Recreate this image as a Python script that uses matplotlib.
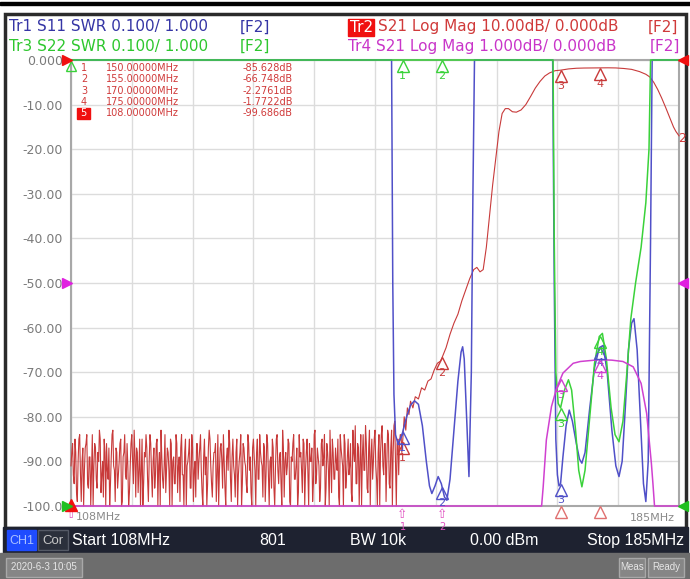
import numpy as np
import matplotlib.pyplot as plt
from matplotlib.patches import Rectangle
from matplotlib.transforms import offset_copy, blended_transform_factory

# %% Data

f_start, f_stop = 108.0, 185.0

# Tr2 S21 log mag (dB): noise floor 108 .. 149.9 MHz, two interleaved halves
tr2_noise_even = [
    -91, -86, -95, -88, -99, -85, -93, -90, -100, -87, -84, -96, -89, -92, -100, -86, -94, -88, -83, -97,
    -90, -85, -100, -92, -87, -95, -84, -91, -99, -88, -93, -86, -100, -89, -84, -94, -91, -97, -86, -90,
    -83, -98, -88, -92, -100, -85, -95, -89, -87, -99, -84, -93, -90, -96, -86, -100, -88, -83, -94, -91,
    -97, -87, -92, -85, -100, -89, -95, -86, -91, -99, -84, -93, -88, -100, -90, -85, -96, -87, -92, -98,
    -86, -90, -84, -97, -89, -93, -100, -87, -85, -95, -91, -88, -99, -84, -92, -86, -96, -90, -100, -87,
    -83, -94, -89, -91, -98, -85, -93, -88, -100, -86, -90, -95, -84, -92, -97, -87, -89, -100, -85, -94,
    -88, -91, -86, -99, -84, -93, -90, -96, -87, -100, -85, -92, -89, -95, -83, -98, -88, -91, -86, -100,
    -90, -84, -94, -87, -97, -89, -92, -85, -100, -88, -93, -86, -90, -99, -84, -95, -87, -91, -96, -85,
    -89, -100, -86, -92, -83, -97, -88, -94, -90, -85, -100, -87, -91, -84, -96, -89, -93, -86, -99, -88,
    -82, -95, -87, -90, -100, -84, -92, -86, -97, -83, -89, -94, -85, -91, -100, -84, -88, -82, -93, -86,
    -90, -84, -96, -83, -88, -81, -100, -85, -86, -84,
]
tr2_noise_odd = [
    -88, -93, -85, -97, -90, -84, -99, -87, -92, -86, -95, -89, -100, -84, -91, -87, -96, -90, -85, -93,
    -98, -88, -86, -94, -100, -89, -83, -92, -87, -96, -90, -85, -99, -88, -93, -86, -100, -91, -84, -95,
    -89, -87, -97, -85, -92, -100, -88, -84, -94, -90, -86, -98, -87, -93, -85, -91, -100, -89, -96, -84,
    -92, -88, -100, -86, -90, -95, -84, -97, -89, -87, -93, -100, -85, -91, -88, -96, -84, -99, -90, -86,
    -94, -87, -92, -100, -85, -89, -95, -83, -91, -98, -88, -86, -93, -100, -87, -90, -84, -96, -89, -92,
    -86, -99, -85, -93, -88, -100, -90, -84, -95, -87, -91, -97, -86, -89, -100, -85, -92, -88, -94, -84,
    -90, -98, -87, -93, -86, -100, -89, -85, -96, -91, -84, -95, -88, -100, -87, -90, -93, -85, -99, -89,
    -86, -94, -91, -100, -84, -88, -97, -86, -92, -85, -100, -90, -87, -95, -83, -93, -89, -99, -86, -91,
    -84, -96, -88, -100, -90, -85, -94, -87, -92, -98, -84, -89, -100, -86, -93, -85, -91, -97, -83, -90,
    -95, -86, -100, -84, -89, -92, -82, -96, -87, -100, -85, -90, -83, -94, -88, -100, -84, -91, -86, -99,
    -83, -95, -87, -100, -82, -90, -86, -93, -84, -88,
]
tr2_noise_db = np.column_stack([tr2_noise_even, tr2_noise_odd]).ravel()
tr2_noise_freq = f_start + 0.1 * np.arange(len(tr2_noise_db))

# Tr2 skirt + passband
tr2_pass_freq = [150.0, 150.2, 150.4, 150.6, 150.8, 151.0, 151.3, 151.6, 152.0, 152.4, 152.8, 153.2,
                 153.6, 154.0, 154.4, 154.8, 155.0, 155.5, 156.0, 156.5, 157.0, 157.5, 158.0, 158.5,
                 159.0, 159.4, 159.8, 160.2, 160.6, 161.0, 161.4, 161.8, 162.2, 162.6, 163.0, 163.4,
                 163.9, 164.4, 165.0, 165.6, 166.2, 166.8, 167.4, 168.0, 168.6, 169.3, 170.0, 171.0,
                 172.0, 173.0, 174.0, 175.0, 176.0, 177.0, 178.0, 179.0, 180.0, 180.8, 181.3, 181.8,
                 182.3, 182.8, 183.3, 183.8, 184.3, 184.6, 185.0]
tr2_pass_db = [-85.6, -80.0, -83.0, -78.0, -79.5, -76.5, -78.0, -75.5, -76.0, -73.5, -74.0, -72.0,
               -71.5, -69.5, -68.0, -67.5, -66.7, -64.5, -61.5, -59.0, -57.0, -54.0, -51.5, -49.0,
               -47.0, -46.5, -47.5, -47.0, -42.0, -35.0, -28.0, -22.0, -16.0, -12.0, -10.9, -10.9,
               -11.6, -11.7, -11.2, -10.0, -8.2, -6.3, -4.8, -3.6, -2.9, -2.4, -2.28, -2.0,
               -1.85, -1.8, -1.78, -1.77, -1.75, -1.78, -1.9, -2.1, -2.6, -3.2, -3.8, -5.0,
               -6.6, -8.5, -10.6, -12.8, -15.0, -16.0, -17.0]

# Tr1 S11 SWR
tr1_freq = [108.0, 148.4, 148.6, 148.75, 148.9, 149.1, 149.4, 149.7, 150.0, 150.5, 151.0, 151.5,
            152.0, 152.5, 153.0, 153.4, 153.7, 154.1, 154.5, 154.9, 155.3, 155.6, 156.0, 156.5,
            157.0, 157.4, 157.6, 157.8, 158.1, 158.4, 158.7, 158.9, 159.1, 159.3, 168.8, 169.0,
            169.2, 169.4, 169.6, 169.8, 170.0, 170.3, 170.7, 171.1, 171.5, 172.0, 172.4, 172.7,
            173.1, 173.7, 174.3, 174.9, 175.4, 175.9, 176.5, 177.0, 177.4, 177.8, 178.2, 178.6,
            179.0, 179.3, 179.7, 180.1, 180.5, 180.8, 181.1, 181.4, 181.6, 181.8, 185.0]
tr1_swr = [5.0, 5.0, 2.0, 1.5, 1.25, 1.16, 1.14, 1.15, 1.165, 1.2, 1.226, 1.236,
           1.228, 1.18, 1.1, 1.045, 1.028, 1.045, 1.066, 1.05, 1.02, 1.013, 1.06, 1.17,
           1.28, 1.345, 1.357, 1.33, 1.2, 1.066, 1.3, 1.7, 2.2, 5.0, 5.0, 2.2,
           1.5, 1.15, 1.07, 1.045, 1.05, 1.11, 1.18, 1.215, 1.19, 1.14, 1.105, 1.096,
           1.12, 1.22, 1.31, 1.355, 1.36, 1.3, 1.17, 1.09, 1.066, 1.1, 1.22, 1.35,
           1.41, 1.42, 1.35, 1.2, 1.05, 1.01, 1.1, 1.6, 2.2, 5.0, 5.0]

# Tr3 S22 SWR
tr3_freq = [108.0, 168.9, 169.05, 169.2, 169.4, 169.7, 170.0, 170.5, 171.0, 171.4, 171.9, 172.3,
            172.7, 173.1, 173.7, 174.3, 174.9, 175.3, 175.8, 176.4, 176.9, 177.4, 177.9, 178.4,
            178.9, 179.5, 180.2, 180.8, 181.2, 181.4, 181.5, 185.0]
tr3_swr = [5.0, 5.0, 2.2, 1.6, 1.3, 1.23, 1.22, 1.26, 1.283, 1.26, 1.17, 1.08,
           1.043, 1.08, 1.2, 1.32, 1.38, 1.387, 1.33, 1.22, 1.16, 1.144, 1.19, 1.3,
           1.42, 1.5, 1.58, 1.68, 1.8, 2.5, 5.0, 5.0]

# Tr4 S21 log mag, 1 dB/div
tr4_freq = [108.0, 167.6, 167.8, 168.2, 168.85, 169.5, 170.3, 171.6, 172.5, 173.7, 175.0, 176.5,
            177.9, 179.2, 180.2, 180.9, 181.5, 181.7, 181.9, 185.0]
tr4_db = [-6.0, -6.0, -4.57, -3.52, -2.77, -2.36, -2.02, -1.8, -1.76, -1.74, -1.72, -1.73,
          -1.76, -1.88, -2.25, -2.92, -4.04, -4.5, -6.0, -6.0]

marker_freq = [150.0, 155.0, 170.0, 175.0]
marker_table = [("1", "150.00000MHz", "-85.628dB"),
                ("2", "155.00000MHz", "-66.748dB"),
                ("3", "170.00000MHz", "-2.2761dB"),
                ("4", "175.00000MHz", "-1.7722dB"),
                ("5", "108.00000MHz", "-99.686dB")]

y_ticks = [-100, -90, -80, -70, -60, -50, -40, -30, -20, -10, 0]
y_labels = ["-100.0", "-90.00", "-80.00", "-70.00", "-60.00", "-50.00",
            "-40.00", "-30.00", "-20.00", "-10.00", "0.000"]

# %% Colours

C_BLUE, C_BLUE_T = "#5050c8", "#3535a5"
C_GREEN, C_GREEN_T = "#3ad23a", "#2ec72e"
C_RED, C_RED_T = "#c83a3a", "#d03a3a"
C_MAG, C_MAG_T = "#d040d0", "#c935c9"

# %% Screen mapping (everything drawn on the 10 dB/div graticule)

def swr_to_screen(swr, ref_pos=-100.0):
    return ref_pos + (np.asarray(swr) - 1.0) / 0.1 * 10.0

def tr4_to_screen(db, ref_pos=-50.0):
    return ref_pos + np.asarray(db) / 1.0 * 10.0

def clip(v):
    return np.clip(v, -100.0, 0.0)

tr2_f = np.concatenate([tr2_noise_freq, tr2_pass_freq])
tr2_y = clip(np.concatenate([tr2_noise_db, tr2_pass_db]))
tr1_y = clip(swr_to_screen(tr1_swr))
tr3_y = clip(swr_to_screen(tr3_swr))
tr4_y = clip(tr4_to_screen(tr4_db))

# %% Figure

fig = plt.figure(figsize=(6.9, 5.79), dpi=100)
bg = fig.add_axes([0, 0, 1, 1])
bg.set_xlim(0, 690)
bg.set_ylim(579, 0)
bg.axis("off")

# frame / bars
bg.add_patch(Rectangle((0, 1.5), 690, 3, color="black"))
bg.add_patch(Rectangle((4.5, 13.5), 681.5, 514, facecolor="white", edgecolor="#2b2b2b", lw=2.5))
bg.add_patch(Rectangle((3, 527), 685, 26, color="#1e2230"))
bg.add_patch(Rectangle((0, 553), 690, 26, color="#6d6d6d"))
bg.add_patch(Rectangle((7, 530), 29, 20, color="#1f4cff"))
bg.add_patch(Rectangle((38, 530), 30, 20, facecolor="#2b303c", edgecolor="#555a66", lw=1))
bg.add_patch(Rectangle((6, 558), 76, 19, facecolor="#868686", edgecolor="#a8a8a8", lw=1))
bg.add_patch(Rectangle((619, 558), 26, 19, facecolor="#868686", edgecolor="#a8a8a8", lw=1))
bg.add_patch(Rectangle((648, 558), 36, 19, facecolor="#868686", edgecolor="#a8a8a8", lw=1))

bar_font = dict(family=["Liberation Sans", "DejaVu Sans"], va="center")
bg.text(21.5, 540.5, "CH1", color="#a9c0ff", fontsize=9, ha="center", **bar_font)
bg.text(53, 540.5, "Cor", color="#c8c8c8", fontsize=9.5, ha="center", **bar_font)
bg.text(72, 540.5, "Start 108MHz", color="white", fontsize=11.5, ha="left", **bar_font)
bg.text(273, 540.5, "801", color="white", fontsize=11.5, ha="center", **bar_font)
bg.text(350, 540.5, "BW 10k", color="white", fontsize=11.5, ha="left", **bar_font)
bg.text(470, 540.5, "0.00 dBm", color="white", fontsize=11.5, ha="left", **bar_font)
bg.text(684, 540.5, "Stop 185MHz", color="white", fontsize=11.5, ha="right", **bar_font)
bg.text(44, 567.5, "2020-6-3 10:05", color="#e6e6e6", fontsize=7, ha="center", **bar_font)
bg.text(632, 567.5, "Meas", color="#e6e6e6", fontsize=7, ha="center", **bar_font)
bg.text(666, 567.5, "Ready", color="#e6e6e6", fontsize=7, ha="center", **bar_font)

# trace header
hdr = dict(fontsize=11, va="center", ha="left")
bg.text(9, 27, "Tr1 S11 SWR 0.100/ 1.000", color=C_BLUE_T, **hdr)
bg.text(240, 27, "[F2]", color=C_BLUE_T, **hdr)
bg.text(9, 46, "Tr3 S22 SWR 0.100/ 1.000", color=C_GREEN_T, **hdr)
bg.text(240, 46, "[F2]", color=C_GREEN_T, **hdr)
bg.add_patch(Rectangle((348, 19), 26, 17, color="#f01010"))
bg.text(349.5, 27, "Tr2", color="white", **hdr)
bg.text(378, 27, "S21 Log Mag 10.00dB/ 0.000dB", color=C_RED_T, **hdr)
bg.text(648, 27, "[F2]", color=C_RED_T, **hdr)
bg.text(348, 46, "Tr4 S21 Log Mag 1.000dB/ 0.000dB", color=C_MAG_T, **hdr)
bg.text(650, 46, "[F2]", color=C_MAG_T, **hdr)

# %% Graticule

ax = fig.add_axes([71 / 690, 1 - 506 / 579, 608 / 690, 446 / 579])
ax.set_xlim(f_start, f_stop)
ax.set_ylim(-100, 0)
ax.set_facecolor("white")
ax.set_xticks(np.linspace(f_start, f_stop, 11))
ax.set_yticks(y_ticks)
ax.set_yticklabels(y_labels)
ax.set_xticklabels([])
ax.tick_params(length=0, labelsize=9, labelcolor="#7a7a7a", pad=6)
ax.grid(True, color="#dcdcdc", lw=1)
for s in ax.spines.values():
    s.set_color("#a8a8a8")
    s.set_linewidth(1.5)

ax.plot(tr2_f, tr2_y, color=C_RED, lw=0.8, clip_on=False, zorder=3)
ax.plot(tr1_freq, tr1_y, color=C_BLUE, lw=1.1, clip_on=False, zorder=4)
ax.plot(tr3_freq, tr3_y, color=C_GREEN, lw=1.1, clip_on=False, zorder=5)
ax.plot(tr4_freq, tr4_y, color=C_MAG, lw=1.1, clip_on=False, zorder=6)

# trace end label
ax.annotate("2", (tr2_f[-1], tr2_y[-1]), xytext=(3, -3), textcoords="offset pixels",
            color=C_RED_T, fontsize=9, ha="center", va="center", annotation_clip=False)

# %% Markers

tri_tr = offset_copy(ax.transData, fig=fig, y=-6, units="dots")
freqs_of = {C_RED: tr2_f, C_BLUE: tr1_freq, C_GREEN: tr3_freq, C_MAG: tr4_freq}

def draw_markers(freqs, y, col):
    for i, mf in enumerate(freqs):
        v = float(np.interp(mf, freqs_of[col], y))
        ax.plot([mf], [v], marker="^", ms=8, mfc="none", mec=col, mew=1,
                transform=tri_tr, clip_on=False, zorder=8)
        ax.annotate(str(i + 1), (mf, v), xytext=(0, -16), textcoords="offset pixels",
                    color=col, fontsize=8, ha="center", va="center", annotation_clip=False,
                    zorder=8)

draw_markers(marker_freq, tr2_y, C_RED)
draw_markers(marker_freq, tr1_y, C_BLUE)
draw_markers(marker_freq, tr3_y, C_GREEN)

# Tr4: markers 1/2 below the screen, 3/4 on the trace
for i, mf in enumerate(marker_freq):
    v = float(np.interp(mf, tr4_freq, tr4_y))
    if v <= -100:
        ax.annotate("\u21e7", (mf, -100), xytext=(0, -9), textcoords="offset pixels",
                    color="#e050c0", fontsize=9, ha="center", va="center", annotation_clip=False)
        ax.annotate(str(i + 1), (mf, -100), xytext=(0, -21), textcoords="offset pixels",
                    color="#e050c0", fontsize=7, ha="center", va="center", annotation_clip=False)
    else:
        ax.plot([mf], [v], marker="^", ms=8, mfc="none", mec=C_MAG, mew=1,
                transform=tri_tr, clip_on=False, zorder=8)
        ax.annotate(str(i + 1), (mf, v), xytext=(0, -16), textcoords="offset pixels",
                    color=C_MAG, fontsize=8, ha="center", va="center", annotation_clip=False)
        ax.plot([mf], [-100], marker="^", ms=8, mfc="none", mec="#e07070", mew=1,
                transform=tri_tr, clip_on=False, zorder=8)

# marker 5 at start frequency
ax.plot([f_start], [-99.7], marker="^", ms=8, color="#f01010", clip_on=False, zorder=9)
ax.plot([f_start], [0], marker="^", ms=7, mfc="none", mec=C_GREEN, mew=1,
        transform=tri_tr, clip_on=False, zorder=9)
ax.annotate("\u21e7", (f_start, -100), xytext=(0, -9), textcoords="offset pixels",
            color="#e050c0", fontsize=9, ha="center", va="center", annotation_clip=False)

# reference position indicators
bt = blended_transform_factory(ax.transAxes, ax.transData)
for ref, col in [(0, "#f01010"), (-50, "#e020e0"), (-100, "#20c020")]:
    ax.plot([-0.006], [ref], marker=">", ms=7, color=col, transform=bt, clip_on=False, zorder=9)
    ax.plot([1.006], [ref], marker="<", ms=7, color=col, transform=bt, clip_on=False, zorder=9)

# marker table (drawn on the graticule, placed in screen pixels)
px = bg.transData
for row, (num, fr, val) in enumerate(marker_table):
    yy = 68 + row * 11.3
    if num == "5":
        ax.add_patch(Rectangle((77, yy - 5.5), 13, 11, color="#f01010", transform=px,
                               clip_on=False, zorder=10))
        ax.text(83.5, yy, num, color="white", fontsize=7, ha="center", va="center",
                transform=px, zorder=11)
    else:
        ax.text(84, yy, num, color=C_RED_T, fontsize=7, ha="center", va="center",
                transform=px, zorder=11)
    ax.text(106, yy, fr, color=C_RED_T, fontsize=7, ha="left", va="center",
            transform=px, zorder=11)
    ax.text(293, yy, val, color=C_RED_T, fontsize=7, ha="right", va="center",
            transform=px, zorder=11)

# stimulus labels
ax.text(0.008, -0.025, "108MHz", transform=ax.transAxes, color="#8a8a8a", fontsize=8,
        ha="left", va="center")
ax.text(0.993, -0.027, "185MHz", transform=ax.transAxes, color="#8a8a8a", fontsize=8,
        ha="right", va="center")

plt.savefig("out.png", dpi=100)
plt.close()
